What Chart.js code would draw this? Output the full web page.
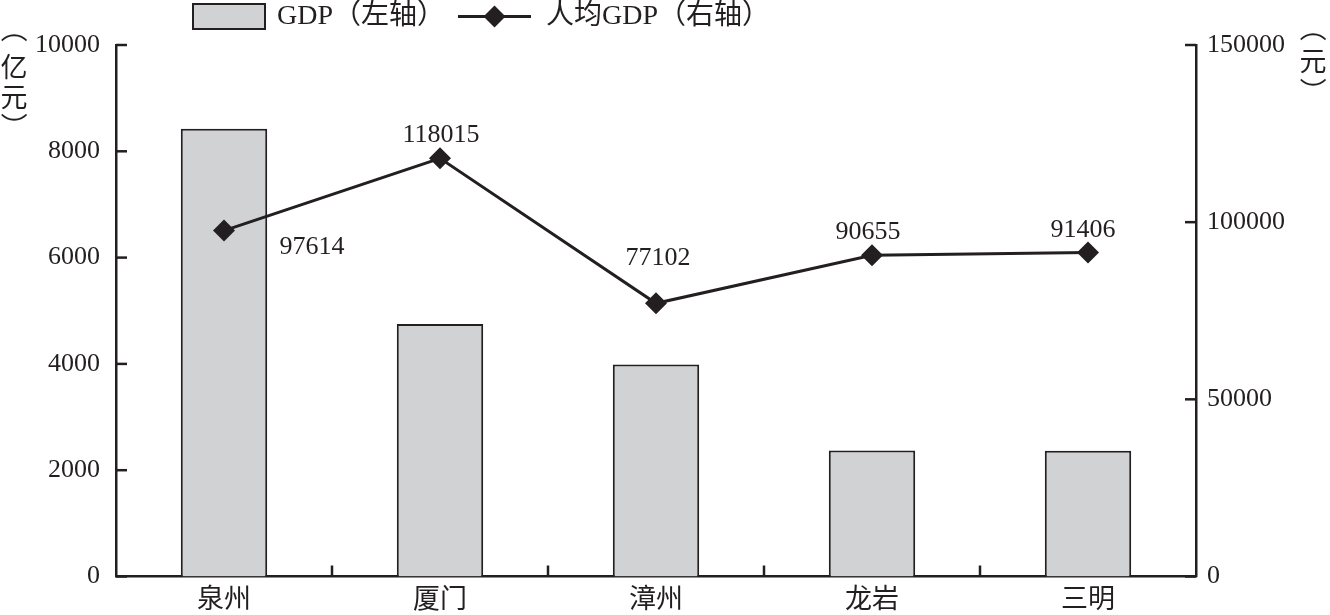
<!DOCTYPE html>
<html><head><meta charset="utf-8">
<script src="https://cdn.jsdelivr.net/npm/chart.js@4.4.1/dist/chart.umd.min.js"></script>
<style>html,body{margin:0;padding:0;background:#fff;overflow:hidden;} #wrap{width:1330px;height:615px;position:relative;}</style>
</head><body><div id="wrap"><canvas id="c" width="1330" height="615"></canvas></div>
<script>
const categories = ['泉州', '厦门', '漳州', '龙岩', '三明'];
const gdpValues = [8425, 4750, 3990, 2370, 2365];
const perCapitaValues = [97614, 118015, 77102, 90655, 91406];
const leftTicks = [0, 2000, 4000, 6000, 8000, 10000];
const rightTicks = [0, 50000, 100000, 150000];
const seriesNames = ['GDP（左轴）', '人均GDP（右轴）'];
const leftTitle = '（亿元）';
const rightTitle = '（元）';

const INK = '#231f20';
const BAR_FILL = '#d1d2d4';
const FONT_FAMILY = '"Liberation Serif", "Noto Sans CJK SC", serif';

// label offsets (px) relative to each point, style only
const labelOffsets = [[88, 17], [1, -23], [2, -45], [-4, -23], [-5, -22]];

const inwardTicks = {
  id: 'inwardTicks',
  afterDraw(chart) {
    const ctx = chart.ctx, area = chart.chartArea;
    const L = 11;
    ctx.save();
    ctx.strokeStyle = INK;
    ctx.lineWidth = 2.5;
    const yl = chart.scales.y, yr = chart.scales.y1, x = chart.scales.x;
    yl.ticks.forEach(t => {
      const py = yl.getPixelForValue(t.value);
      ctx.beginPath(); ctx.moveTo(area.left, py); ctx.lineTo(area.left + L, py); ctx.stroke();
    });
    yr.ticks.forEach(t => {
      const py = yr.getPixelForValue(t.value);
      ctx.beginPath(); ctx.moveTo(area.right, py); ctx.lineTo(area.right - L, py); ctx.stroke();
    });
    for (let i = 1; i < categories.length; i++) {
      const px = (x.getPixelForTick(i - 1) + x.getPixelForTick(i)) / 2;
      ctx.beginPath(); ctx.moveTo(px, area.bottom); ctx.lineTo(px, area.bottom - L); ctx.stroke();
    }
    ctx.restore();
  }
};

function drawVerticalTitle(ctx, text, cx, centers) {
  const chars = Array.from(text);
  ctx.save();
  ctx.fillStyle = INK;
  ctx.font = '27px "Noto Sans CJK SC"';
  ctx.textAlign = 'center';
  ctx.textBaseline = 'middle';
  chars.forEach((ch, i) => {
    const cy = centers[i];
    if (ch === '（' || ch === '）') {
      ctx.save();
      ctx.translate(cx, cy);
      ctx.rotate(Math.PI / 2);
      ctx.fillText(ch, 0, 0);
      ctx.restore();
    } else {
      ctx.fillText(ch, cx, cy);
    }
  });
  ctx.restore();
}

const titlesAndLegend = {
  id: 'titlesAndLegend',
  afterDraw(chart) {
    const ctx = chart.ctx;
    drawVerticalTitle(ctx, leftTitle, 14, [29, 67, 97, 126]);
    drawVerticalTitle(ctx, rightTitle, 1313, [28, 61, 91]);
    // legend
    const ds0 = chart.data.datasets[0], ds1 = chart.data.datasets[1];
    ctx.save();
    ctx.fillStyle = ds0.backgroundColor;
    ctx.strokeStyle = ds0.borderColor;
    ctx.lineWidth = 2;
    ctx.fillRect(193, 4, 72, 25);
    ctx.strokeRect(193, 4, 72, 25);
    ctx.fillStyle = INK;
    ctx.font = '28px ' + FONT_FAMILY;
    ctx.textAlign = 'left';
    ctx.textBaseline = 'middle';
    ctx.fillText(ds0.label, 277, 17);
    ctx.strokeStyle = ds1.borderColor;
    ctx.lineWidth = 3;
    ctx.beginPath(); ctx.moveTo(458, 16.5); ctx.lineTo(531, 16.5); ctx.stroke();
    ctx.fillStyle = ds1.pointBackgroundColor;
    ctx.beginPath();
    ctx.moveTo(494.5, 5.5); ctx.lineTo(505.5, 16.5); ctx.lineTo(494.5, 27.5); ctx.lineTo(483.5, 16.5);
    ctx.closePath(); ctx.fill();
    ctx.fillStyle = INK;
    ctx.fillText(ds1.label, 546, 17);
    ctx.restore();
  }
};

const pointLabels = {
  id: 'pointLabels',
  afterDatasetsDraw(chart) {
    const ctx = chart.ctx;
    const meta = chart.getDatasetMeta(1);
    ctx.save();
    ctx.fillStyle = INK;
    ctx.font = '26px ' + FONT_FAMILY;
    ctx.textAlign = 'center';
    ctx.textBaseline = 'middle';
    meta.data.forEach((pt, i) => {
      const [dx, dy] = labelOffsets[i];
      ctx.fillText(String(perCapitaValues[i]), pt.x + dx, pt.y + dy);
    });
    ctx.restore();
  }
};

new Chart(document.getElementById('c'), {
  data: {
    labels: categories,
    datasets: [
      {
        type: 'bar',
        label: seriesNames[0],
        data: gdpValues,
        yAxisID: 'y',
        backgroundColor: BAR_FILL,
        borderColor: INK,
        borderWidth: 2,
        barPercentage: 0.4,
        categoryPercentage: 1.0,
        order: 2
      },
      {
        type: 'line',
        label: seriesNames[1],
        data: perCapitaValues,
        yAxisID: 'y1',
        borderColor: INK,
        borderWidth: 3,
        pointStyle: 'rectRot',
        pointRadius: 11,
        pointBackgroundColor: INK,
        pointBorderColor: INK,
        pointBorderWidth: 0,
        tension: 0,
        order: 1
      }
    ]
  },
  options: {
    responsive: false,
    animation: false,
    devicePixelRatio: 1,
    layout: { padding: { top: 45, left: 0, right: 0, bottom: 0 } },
    plugins: { legend: { display: false }, tooltip: { enabled: false } },
    scales: {
      x: {
        type: 'category',
        offset: true,
        grid: { display: false, drawTicks: false },
        border: { display: true, color: INK, width: 2.5 },
        ticks: { color: INK, font: { size: 27, family: FONT_FAMILY }, padding: 8 },
        afterFit(s) { s.height = 38.5; }
      },
      y: {
        position: 'left',
        min: 0, max: 10000,
        grid: { display: false, drawTicks: false },
        border: { display: true, color: INK, width: 2.5 },
        ticks: { color: INK, font: { size: 26, family: FONT_FAMILY }, padding: 16, callback: v => String(v) },
        afterBuildTicks(s) { s.ticks = leftTicks.map(v => ({ value: v })); },
        afterFit(s) { s.width = 116; }
      },
      y1: {
        position: 'right',
        min: 0, max: 150000,
        grid: { display: false, drawTicks: false },
        border: { display: true, color: INK, width: 2.5 },
        ticks: { color: INK, font: { size: 26, family: FONT_FAMILY }, padding: 11, callback: v => String(v) },
        afterBuildTicks(s) { s.ticks = rightTicks.map(v => ({ value: v })); },
        afterFit(s) { s.width = 134; }
      }
    }
  },
  plugins: [inwardTicks, titlesAndLegend, pointLabels]
});
</script>
</body></html>
